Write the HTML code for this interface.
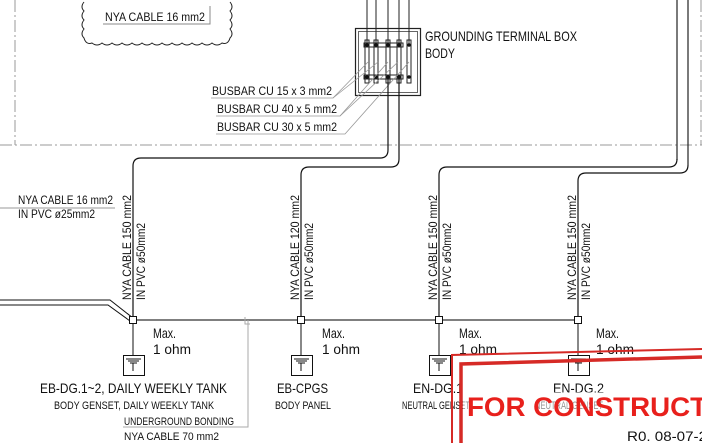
<!DOCTYPE html>
<html><head><meta charset="utf-8"><style>
html,body{margin:0;padding:0;background:#fff;}
svg{display:block;}
text{font-family:"Liberation Sans",sans-serif;fill:#111;}
</style></head><body>
<svg width="702" height="443" viewBox="0 0 702 443" xmlns="http://www.w3.org/2000/svg">
<g stroke="#999" stroke-width="1" fill="none" stroke-dasharray="12,3,2,3">
<line x1="15" y1="0" x2="15" y2="145"/>
<line x1="0" y1="145" x2="702" y2="145"/>
<line x1="701" y1="0" x2="701" y2="145"/>
</g>
<path d="M84,2 q-4,5 0,9 q-4,5 0,9 q-4,5 0,9 q-4,5 0,9 q2,7 8,5 q5,4 10,0 q5,4 10,0 q5,4 10,0 q5,4 10,0 q5,4 10,0 q5,4 10,0 q5,4 10,0 q5,4 10,0 q5,4 10,0 q5,4 10,0 q5,4 10,0 q5,4 10,0 q5,4 10,0 q6,2 8,-5 q4,-4 0,-9 q4,-4 0,-9 q4,-4 0,-9 q4,-4 0,-9" fill="none" stroke="#222" stroke-width="1"/>
<text x="105" y="21" font-size="12" textLength="100" lengthAdjust="spacingAndGlyphs">NYA CABLE 16 mm2</text>
<polyline points="103,24 210,24 210,6" fill="none" stroke="#888" stroke-width="1"/>
<g stroke="#222" stroke-width="1.2" fill="none">
<line x1="677" y1="0" x2="677" y2="160"/>
<line x1="688" y1="0" x2="688" y2="165"/>
</g>
<rect x="355.5" y="28.5" width="65" height="67" fill="none" stroke="#222" stroke-width="1.2"/>
<rect x="358.5" y="31.5" width="59" height="61" fill="none" stroke="#666" stroke-width="1"/>
<g stroke="#222" stroke-width="1" fill="none">
<line x1="367" y1="0" x2="367" y2="45"/>
<line x1="376" y1="0" x2="376" y2="45"/>
<line x1="388" y1="0" x2="388" y2="45"/>
<line x1="399" y1="0" x2="399" y2="45"/>
<line x1="409" y1="0" x2="409" y2="45"/>
<rect x="364" y="43" width="39" height="4"/>
<rect x="364" y="75" width="39" height="4"/>
<rect x="365" y="40" width="4" height="43"/>
<rect x="374" y="40" width="4" height="43"/>
<rect x="386" y="40" width="4" height="43"/>
<rect x="397" y="40" width="4" height="43"/>
<rect x="407" y="40" width="4" height="43"/>
</g>
<g fill="#111"><circle cx="367" cy="45" r="1.8"/><circle cx="376" cy="45" r="1.8"/><circle cx="388" cy="45" r="1.8"/><circle cx="399" cy="45" r="1.8"/><circle cx="409" cy="45" r="1.8"/>
<circle cx="367" cy="77" r="1.8"/><circle cx="376" cy="77" r="1.8"/><circle cx="388" cy="77" r="1.8"/><circle cx="399" cy="77" r="1.8"/><circle cx="409" cy="77" r="1.8"/></g>
<text x="425" y="41" font-size="14" textLength="152" lengthAdjust="spacingAndGlyphs">GROUNDING TERMINAL BOX</text>
<text x="425" y="58" font-size="14" textLength="30" lengthAdjust="spacingAndGlyphs">BODY</text>
<g stroke="#999" stroke-width="0.8" fill="none">
<polyline points="211,98 333,98 368,62"/><line x1="333" y1="98" x2="378" y2="62"/>
<polyline points="216,116 340,116 388,62"/><line x1="340" y1="116" x2="398" y2="62"/>
<polyline points="216,134 345,134 409,62"/>
</g>
<text x="212" y="95" font-size="12" textLength="120" lengthAdjust="spacingAndGlyphs">BUSBAR CU 15 x 3 mm2</text>
<text x="217" y="113" font-size="12" textLength="120" lengthAdjust="spacingAndGlyphs">BUSBAR CU 40 x 5 mm2</text>
<text x="217" y="131" font-size="12" textLength="120" lengthAdjust="spacingAndGlyphs">BUSBAR CU 30 x 5 mm2</text>
<g stroke="#111" stroke-width="1.2" fill="none">
<path d="M133,320 V166 Q133,158 141,158 H380 Q388,158 388,150 V79"/>
<path d="M301,320 V175 Q301,167 309,167 H391 Q399,167 399,159 V79"/>
<path d="M439,320 V175 Q439,167 447,167 H669 Q677,167 677,159"/>
<path d="M578,320 V181 Q578,173 586,173 H680 Q688,173 688,165"/>
<line x1="133" y1="320" x2="578" y2="320" stroke="#555" stroke-width="1.5"/>
<path d="M0,300 H110 L133,318" stroke-width="1"/>
<path d="M0,305 H108 L130,321" stroke-width="1"/>
</g>
<text x="18" y="204" font-size="12" textLength="95" lengthAdjust="spacingAndGlyphs">NYA CABLE 16 mm2</text>
<line x1="0" y1="208" x2="115" y2="208" stroke="#777" stroke-width="0.8"/>
<text x="18" y="218" font-size="12" textLength="77" lengthAdjust="spacingAndGlyphs">IN PVC ø25mm2</text>
<g font-size="12">
<text transform="translate(131,300) rotate(-90)" textLength="105" lengthAdjust="spacingAndGlyphs">NYA CABLE 150 mm2</text>
<text transform="translate(145,300) rotate(-90)" textLength="77" lengthAdjust="spacingAndGlyphs">IN PVC ø50mm2</text>
<text transform="translate(299,300) rotate(-90)" textLength="105" lengthAdjust="spacingAndGlyphs">NYA CABLE 120 mm2</text>
<text transform="translate(313,300) rotate(-90)" textLength="77" lengthAdjust="spacingAndGlyphs">IN PVC ø50mm2</text>
<text transform="translate(437,300) rotate(-90)" textLength="105" lengthAdjust="spacingAndGlyphs">NYA CABLE 150 mm2</text>
<text transform="translate(451,300) rotate(-90)" textLength="77" lengthAdjust="spacingAndGlyphs">IN PVC ø50mm2</text>
<text transform="translate(576,300) rotate(-90)" textLength="105" lengthAdjust="spacingAndGlyphs">NYA CABLE 150 mm2</text>
<text transform="translate(590,300) rotate(-90)" textLength="77" lengthAdjust="spacingAndGlyphs">IN PVC ø50mm2</text>
</g>
<g stroke="#aaa" stroke-width="1" fill="none">
<polyline points="123,427 248,427 248,320"/>
<polyline points="245,317 245,324 250,324"/>
</g>
<g stroke="#111" stroke-width="1" fill="#fff">
<line x1="133" y1="320" x2="133" y2="355"/><line x1="301" y1="320" x2="301" y2="355"/><line x1="439" y1="320" x2="439" y2="355"/><line x1="578" y1="320" x2="578" y2="355"/>
<rect x="129.5" y="316.5" width="7" height="7"/><rect x="297.5" y="316.5" width="7" height="7"/><rect x="435.5" y="316.5" width="7" height="7"/><rect x="574.5" y="316.5" width="7" height="7"/>
<rect x="123.5" y="355.5" width="21" height="20"/><rect x="291.5" y="355.5" width="21" height="20"/><rect x="429.5" y="355.5" width="21" height="20"/><rect x="568.5" y="355.5" width="21" height="20"/>
</g>
<g stroke="#111" stroke-width="1">
<path d="M126,359h15M128,361h11M130,363h7M133,363v8M294,359h15M296,361h11M298,363h7M301,363v8M432,359h15M434,361h11M436,363h7M439,363v8M571,359h15M573,361h11M575,363h7M578,363v8"/>
</g>
<g font-size="14">
<text x="153" y="338" textLength="23" lengthAdjust="spacingAndGlyphs">Max.</text><text x="153" y="354" textLength="38" lengthAdjust="spacingAndGlyphs">1 ohm</text>
<text x="322" y="338" textLength="23" lengthAdjust="spacingAndGlyphs">Max.</text><text x="322" y="354" textLength="38" lengthAdjust="spacingAndGlyphs">1 ohm</text>
<text x="459" y="338" textLength="23" lengthAdjust="spacingAndGlyphs">Max.</text><text x="459" y="354" textLength="38" lengthAdjust="spacingAndGlyphs">1 ohm</text>
<text x="596" y="338" textLength="23" lengthAdjust="spacingAndGlyphs">Max.</text><text x="596" y="354" textLength="38" lengthAdjust="spacingAndGlyphs">1 ohm</text>
<text x="40" y="393" textLength="187" lengthAdjust="spacingAndGlyphs">EB-DG.1~2, DAILY WEEKLY TANK</text>
<text x="277" y="393" textLength="51" lengthAdjust="spacingAndGlyphs">EB-CPGS</text>
<text x="413" y="393" textLength="50" lengthAdjust="spacingAndGlyphs">EN-DG.1</text>
<text x="553" y="393" textLength="51" lengthAdjust="spacingAndGlyphs">EN-DG.2</text>
</g>
<g font-size="11">
<text x="54" y="409" textLength="160" lengthAdjust="spacingAndGlyphs">BODY GENSET, DAILY WEEKLY TANK</text>
<text x="275" y="409" textLength="56" lengthAdjust="spacingAndGlyphs">BODY PANEL</text>
<text x="402" y="409" textLength="68" lengthAdjust="spacingAndGlyphs">NEUTRAL GENSET</text>
<text x="535" y="409" textLength="68" lengthAdjust="spacingAndGlyphs">NEUTRAL GENSET</text>
<text x="124" y="425" textLength="110" lengthAdjust="spacingAndGlyphs">UNDERGROUND BONDING</text>
<text x="124" y="440" textLength="95" lengthAdjust="spacingAndGlyphs">NYA CABLE 70 mm2</text>
</g>
<path d="M452,443 V355 L702,349" stroke="#d62a26" stroke-width="2" fill="none"/>
<path d="M461,443 V364 L702,357" stroke="#d62a26" stroke-width="3.5" fill="none"/>
<rect x="463" y="392" width="239" height="30" fill="#fff" opacity="0.55"/>
<text x="467" y="416" font-size="27" font-weight="bold" style="fill:#e8201c" textLength="240" lengthAdjust="spacingAndGlyphs">FOR CONSTRUCT</text>
<text x="627" y="441" font-size="14" textLength="80" lengthAdjust="spacingAndGlyphs">R0. 08-07-2</text>
</svg>
</body></html>
